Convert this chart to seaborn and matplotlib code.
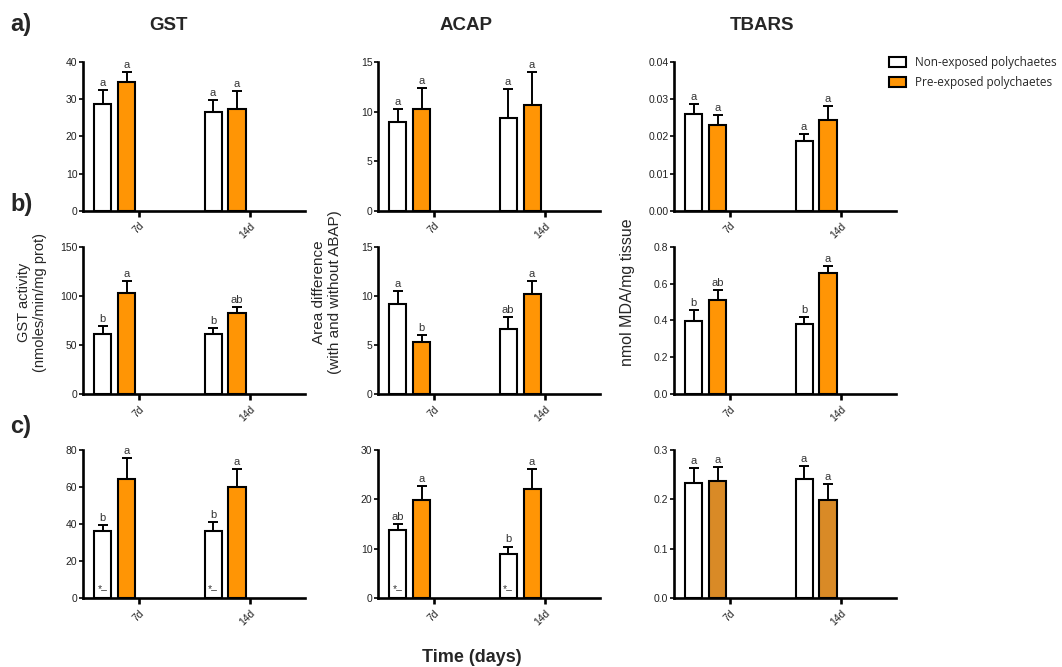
import numpy as np
import pandas as pd
import matplotlib
matplotlib.use('Agg')
import matplotlib.pyplot as plt
from matplotlib.patches import Patch
from matplotlib.container import BarContainer
import seaborn as sns

dias = ['7d', '14d']
grupos = ['Non-exposed polychaetes', 'Pre-exposed polychaetes']

# orden de los valores: 7d no expuesto, 7d pre-expuesto, 14d no expuesto, 14d pre-expuesto
# fila a)
gst_a = [28.7, 34.6, 26.7, 27.5]
gst_a_err = [3.8, 2.6, 3.2, 4.8]
gst_a_let = ['a', 'a', 'a', 'a']
acap_a = [9.0, 10.3, 9.4, 10.65]
acap_a_err = [1.3, 2.1, 2.9, 3.35]
acap_a_let = ['a', 'a', 'a', 'a']
tbars_a = [0.0261, 0.0232, 0.0187, 0.0245]
tbars_a_err = [0.0025, 0.0026, 0.0020, 0.0036]
tbars_a_let = ['a', 'a', 'a', 'a']

# fila b)
gst_b = [61.1, 102.5, 60.7, 82.8]
gst_b_err = [8.5, 12.5, 6.8, 5.8]
gst_b_let = ['b', 'a', 'b', 'ab']
acap_b = [9.13, 5.29, 6.58, 10.21]
acap_b_err = [1.37, 0.71, 1.22, 1.33]
acap_b_let = ['a', 'b', 'ab', 'a']
tbars_b = [0.396, 0.509, 0.380, 0.659]
tbars_b_err = [0.062, 0.058, 0.036, 0.038]
tbars_b_let = ['b', 'ab', 'b', 'a']

# fila c)
gst_c = [36.3, 64.2, 36.3, 59.9]
gst_c_err = [3.3, 11.3, 4.9, 9.9]
gst_c_let = ['b', 'a', 'b', 'a']
acap_c = [13.9, 19.96, 8.97, 22.05]
acap_c_err = [1.1, 2.7, 1.5, 4.05]
acap_c_let = ['ab', 'a', 'b', 'a']
tbars_c = [0.233, 0.237, 0.241, 0.198]
tbars_c_err = [0.031, 0.028, 0.026, 0.034]
tbars_c_let = ['a', 'a', 'a', 'a']

marcas_c = ['*\u2013', '', '*\u2013', '']

naranja = '#FF9505'
naranja_osc = '#D98A26'

sns.set_style('ticks', {'axes.edgecolor': 'black', 'xtick.color': 'black',
                        'ytick.color': 'black'})
plt.rcParams['font.family'] = ['Liberation Sans', 'DejaVu Sans']


def panel(ax, medias, errores, letras, ymax, nticks, fmt, color, marcas=None):
    df = pd.DataFrame({'Dia': [d for d in dias for g in grupos],
                       'Grupo': [g for d in dias for g in grupos],
                       'Valor': medias})
    sns.barplot(data=df, x='Dia', y='Valor', hue='Grupo', order=dias, hue_order=grupos,
                palette=['white', color], saturation=1, errorbar=None,
                width=0.434, gap=0.29, edgecolor='black', linewidth=1.5,
                legend=False, ax=ax)
    conts = [c for c in ax.containers if isinstance(c, BarContainer)]
    for i, cont in enumerate(conts):
        for barra in cont:
            x = barra.get_x() + barra.get_width() / 2
            j = int(round(x))
            k = j * 2 + i
            h = barra.get_height()
            e = errores[k]
            ax.errorbar(x, h, yerr=[[0], [e]], fmt='none', ecolor='black',
                        elinewidth=1.4, capsize=3.6, capthick=1.4, zorder=3)
            ax.annotate(letras[k], (x, h + e), xytext=(0, 1.5), textcoords='offset points',
                        ha='center', va='bottom', fontsize=8, color='#333333')
            if marcas and marcas[k]:
                ax.annotate(marcas[k], (x, 0), xytext=(0, 3), textcoords='offset points',
                            ha='center', va='bottom', fontsize=7.5, color='#333333')
    ax.set_xlim(-0.285, 1.724)
    ax.set_ylim(0, ymax)
    yt = np.linspace(0, ymax, nticks)
    ax.set_yticks(yt)
    ax.set_yticklabels([fmt.format(v) for v in yt])
    ax.set_xticks([0.222, 1.222])
    ax.set_xticklabels(dias, rotation=45, ha='right', rotation_mode='anchor')
    ax.set_xlabel('')
    ax.set_ylabel('')
    sns.despine(ax=ax)
    for s in ['left', 'bottom']:
        ax.spines[s].set_linewidth(1.9)
        ax.spines[s].set_color('black')
    ax.tick_params(axis='y', length=3, width=1.2, labelsize=7.5, color='black',
                   labelcolor='#222222', pad=1)
    ax.tick_params(axis='x', length=4, width=1.9, labelsize=7.5, color='black',
                   labelcolor='#222222', pad=3)


fig = plt.figure(figsize=(10.62, 6.67), dpi=100)
izq = [0.0782, 0.356, 0.6347]
abajo = [0.6837, 0.4093, 0.103]
alto = [0.2234, 0.2208, 0.2223]
ancho = 0.209

filas = [
    [(gst_a, gst_a_err, gst_a_let, 40, 5, '{:.0f}', naranja, None),
     (acap_a, acap_a_err, acap_a_let, 15, 4, '{:.0f}', naranja, None),
     (tbars_a, tbars_a_err, tbars_a_let, 0.04, 5, '{:.2f}', naranja, None)],
    [(gst_b, gst_b_err, gst_b_let, 150, 4, '{:.0f}', naranja, None),
     (acap_b, acap_b_err, acap_b_let, 15, 4, '{:.0f}', naranja, None),
     (tbars_b, tbars_b_err, tbars_b_let, 0.8, 5, '{:.1f}', naranja, None)],
    [(gst_c, gst_c_err, gst_c_let, 80, 5, '{:.0f}', naranja, marcas_c),
     (acap_c, acap_c_err, acap_c_let, 30, 4, '{:.0f}', naranja, marcas_c),
     (tbars_c, tbars_c_err, tbars_c_let, 0.3, 4, '{:.1f}', naranja_osc, None)],
]

for r, fila in enumerate(filas):
    for c, args in enumerate(fila):
        ax = fig.add_axes([izq[c], abajo[r], ancho, alto[r]])
        panel(ax, *args)

W, H = 1062, 667
# letras de panel
for lab, y in [('a)', 25), ('b)', 205), ('c)', 427)]:
    fig.text(10 / W, 1 - y / H, lab, fontsize=17, fontweight='bold', ha='left', va='center')
# titulos de columna
for lab, x in [('GST', 168), ('ACAP', 466), ('TBARS', 762)]:
    fig.text(x / W, 1 - 25 / H, lab, fontsize=13.5, fontweight='bold', ha='center', va='center')

# etiquetas de los ejes y
fig.text(32 / W, 1 - 302 / H, 'GST activity\n(nmoles/min/mg prot)', rotation=90,
         fontsize=10.5, ha='center', va='center', multialignment='center')
fig.text(327 / W, 1 - 292 / H, 'Area difference\n(with and without ABAP)', rotation=90,
         fontsize=11, ha='center', va='center', multialignment='center')
fig.text(627 / W, 1 - 292 / H, 'nmol MDA/mg tissue', rotation=90,
         fontsize=11.5, ha='center', va='center')

fig.text(472 / W, 1 - 657 / H, 'Time (days)', fontsize=13, fontweight='bold',
         ha='center', va='center')

manejadores = [Patch(facecolor='white', edgecolor='black', linewidth=1.5),
               Patch(facecolor=naranja, edgecolor='black', linewidth=1.5)]
fig.legend(manejadores, grupos, loc='upper left', bbox_to_anchor=(889 / W, 1 - 56 / H),
           frameon=False, borderpad=0, borderaxespad=0, handlelength=1.45,
           handleheight=0.9, handletextpad=0.75, labelspacing=0.6,
           prop={'family': ['Open Sans', 'DejaVu Sans'], 'size': 8.5})

fig.savefig('out.png', dpi=100)
